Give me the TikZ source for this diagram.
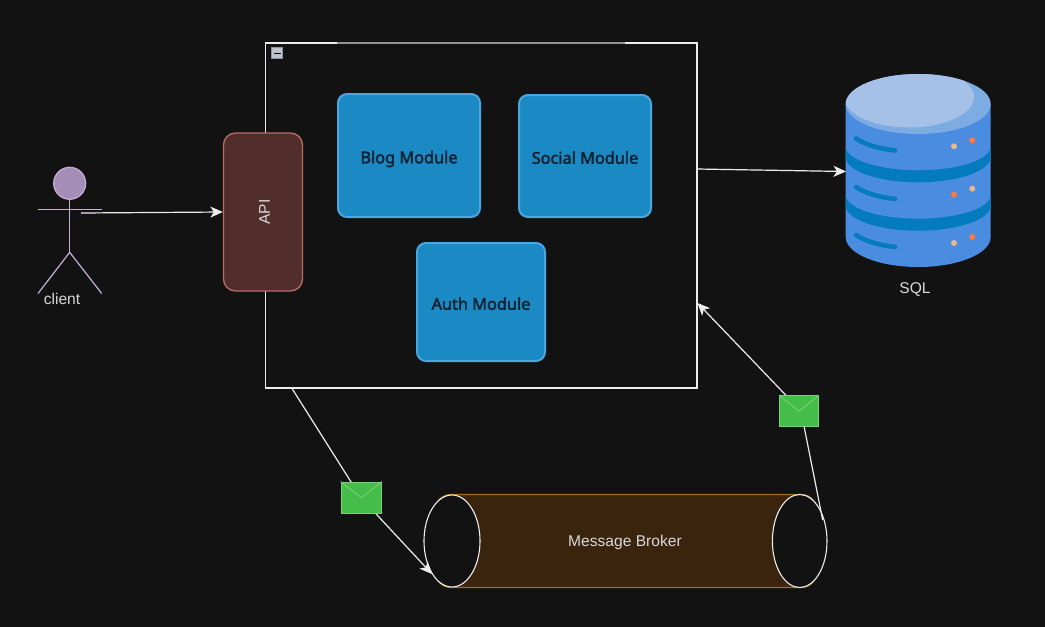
\documentclass[tikz,border=0pt]{standalone}
\usepackage{fontspec}
\setmainfont{Liberation Sans}
\newfontfamily\modfont[FakeBold=2.5]{Noto Sans}
\usetikzlibrary{arrows.meta}
\definecolor{bgc}{HTML}{121212}
\definecolor{edgec}{HTML}{EDEDED}
\definecolor{modfill}{HTML}{1B8AC4}
\definecolor{modline}{HTML}{4BA7E0}
\definecolor{modtext}{HTML}{0E2433}
\definecolor{apifill}{HTML}{512E2C}
\definecolor{apiline}{HTML}{B96B66}
\definecolor{actfill}{HTML}{A48DB7}
\definecolor{actline}{HTML}{C4AFD6}
\definecolor{envfill}{HTML}{45BD49}
\definecolor{envline}{HTML}{7BCF7E}
\definecolor{brokerfill}{HTML}{3A240E}
\definecolor{brokerline}{HTML}{A06E10}
\definecolor{dbbody}{HTML}{4A8CE0}
\definecolor{dbtop}{HTML}{7CACE2}
\definecolor{dbhi}{HTML}{A6C1E8}
\definecolor{dbband}{HTML}{047ABF}
\definecolor{dotorange}{HTML}{FF7C3E}
\definecolor{dottan}{HTML}{E9B98E}
\definecolor{txtc}{HTML}{D8D8D8}
\definecolor{iconfill}{HTML}{BFC4CC}
\definecolor{iconline}{HTML}{8A94A6}
\tikzset{
  conn/.style={draw=edgec,line width=1.2pt,-{Stealth[length=12.5pt,width=11pt,inset=3.5pt]}},
  plain/.style={draw=edgec,line width=1.2pt},
  module/.style={draw=modline,fill=modfill,line width=2pt,rounded corners=9pt,inner sep=0pt,
    text=modtext,font=\fontsize{16.3}{18}\modfont,text height=15.5pt,text depth=0pt},
  envelope/.style={draw=envline,fill=envfill,line width=1pt,inner sep=0pt,minimum width=39pt,minimum height=31pt},
  lbl/.style={text=txtc,inner sep=0pt,font=\fontsize{15.6}{17}\selectfont},
  actorline/.style={draw=actline,line width=1.2pt},
  dbdot/.style={circle,inner sep=0pt,minimum size=6pt},
  dbdash/.style={draw=dbband,line width=4.6pt,line cap=round},
}
\begin{document}
\begin{tikzpicture}[x=1pt,y=-1pt]
\useasboundingbox (0,0) rectangle (1045,627);
\fill[bgc] (0,0) rectangle (1045,627);
% container
\node[draw=edgec,line width=1.2pt,inner sep=0pt,minimum width=431.5pt,minimum height=345pt] (frame) at (481.25,215.5) {};
\draw[gray!85,line width=1.2pt] (337,43) -- (625,43);
\node[draw=iconline,fill=iconfill,line width=0.8pt,inner sep=0pt,minimum width=11pt,minimum height=11pt] (collapse) at (277,53.2) {};
\draw[black,line width=1.2pt] (273.5,53.2) -- (280.5,53.2);
% modules
\node[module,minimum width=142pt,minimum height=123pt] (blog) at (409,155.5) {Blog Module};
\node[module,minimum width=132pt,minimum height=122pt] (social) at (585,156) {Social Module};
\node[module,minimum width=128pt,minimum height=118pt] (auth) at (481,302) {Auth Module};
% API
\node[draw=apiline,fill=apifill,line width=1.3pt,rounded corners=12pt,minimum width=79pt,minimum height=158pt,inner sep=0pt] (api) at (263,212) {};
\node[lbl,rotate=90] (apilabel) at (264.5,212) {API};
% actor
\node[circle,draw=actline,fill=actfill,line width=1.2pt,minimum size=32pt,inner sep=0pt] (head) at (69.7,183.3) {};
\coordinate (hip) at (69.7,252.3);
\coordinate (armL) at (38,209.7);
\coordinate (armR) at (101.7,209.7);
\coordinate (legL) at (38,293.5);
\coordinate (legR) at (101.7,293.5);
\draw[actorline] (head.south) -- (hip);
\draw[actorline] (armL) -- (armR);
\draw[actorline] (legL) -- (hip) -- (legR);
\node[lbl] (client) at (62,298.5) {client};
\coordinate (cstart) at (81,213);
\draw[conn] (cstart) -- (api.west);
% database
\fill[dbbody] (845.7,104) -- (845.7,237) arc[start angle=180,end angle=360,x radius=72.5pt,y radius=30pt] -- (990.7,104) -- cycle;
\fill[dbband] (845.7,146.5) arc[start angle=180,end angle=360,x radius=72.5pt,y radius=23.8pt] -- (990.7,157) arc[start angle=360,end angle=180,x radius=72.5pt,y radius=25.3pt] -- cycle;
\fill[dbband] (845.7,195) arc[start angle=180,end angle=360,x radius=72.5pt,y radius=23.7pt] -- (990.7,205.5) arc[start angle=360,end angle=180,x radius=72.5pt,y radius=25.2pt] -- cycle;
\fill[dbtop] (918.2,104) ellipse[x radius=72.5pt,y radius=30pt];
\begin{scope}
\clip (918.2,104) ellipse[x radius=72.5pt,y radius=30pt];
\fill[dbhi] (909,97) ellipse[x radius=65pt,y radius=30.5pt];
\end{scope}
\draw[dbdash] (856,138.5) .. controls (868,146) and (880,148.5) .. (895,150.5);
\draw[dbdash] (856,187) .. controls (868,194.5) and (880,197) .. (895,199);
\draw[dbdash] (856,235) .. controls (868,242.5) and (880,245) .. (895,247);
\node[dbdot,fill=dottan] (d1) at (954,146.3) {};
\node[dbdot,fill=dotorange] (d2) at (972.3,140.3) {};
\node[dbdot,fill=dotorange] (d3) at (954,194.7) {};
\node[dbdot,fill=dottan] (d4) at (972.3,188.7) {};
\node[dbdot,fill=dottan] (d5) at (954,243) {};
\node[dbdot,fill=dotorange] (d6) at (972.3,237) {};
\node[lbl] (sql) at (915,290) {SQL};
\coordinate (dbin) at (846,171.5);
\coordinate (frameout) at (697,169);
\draw[conn] (frameout) -- (dbin);
% broker
\node[draw=brokerline,fill=brokerfill,line width=1.2pt,rounded corners=16pt,inner sep=0pt,minimum width=382pt,minimum height=93pt] (broker) at (626,541) {};
\node[lbl] (brokerlabel) at (625,542) {Message Broker};
\draw[draw=edgec,fill=bgc,line width=1.1pt] (452,541) ellipse[x radius=28pt,y radius=46pt];
\draw[draw=edgec,fill=bgc,line width=1.1pt] (799.7,541) ellipse[x radius=27.3pt,y radius=46.5pt];
% connectors through envelopes
\coordinate (m1) at (361,497.7);
\coordinate (m2) at (801,411);
\coordinate (f1) at (291.7,388);
\coordinate (b1) at (432,574);
\coordinate (b2) at (822.7,520);
\coordinate (f2) at (697.5,303);
\draw[plain] (f1) -- (m1);
\draw[conn] (m1) -- (b1);
\draw[plain] (b2) -- (m2);
\draw[conn] (m2) -- (f2);
% envelopes
\node[envelope,minimum width=40.5pt,minimum height=31.3pt] (env1) at (361.3,497.7) {};
\draw[envline,line width=0.8pt] (env1.north west) -- (env1.center) -- (env1.north east);
\node[envelope] (env2) at (799,411.2) {};
\draw[envline,line width=0.8pt] (env2.north west) -- (env2.center) -- (env2.north east);
\end{tikzpicture}
\end{document}
